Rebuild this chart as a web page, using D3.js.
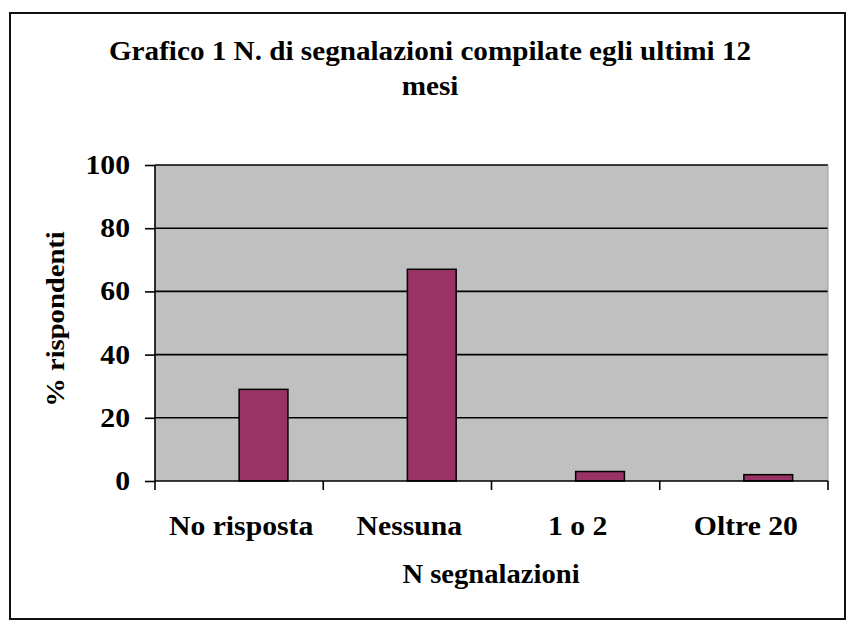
<!DOCTYPE html>
<html>
<head>
<meta charset="utf-8">
<script src="https://cdn.jsdelivr.net/npm/d3@7"></script>
<style>
    body { margin: 0; background: #fff; }
    text { font-family: 'Liberation Serif', 'Times New Roman', serif; font-weight: bold; fill: #000; }
</style>
</head>
<body>
<svg id="chart" width="863" height="634"></svg>
<script>
'use strict';

var categories = ['No risposta', 'Nessuna', '1 o 2', 'Oltre 20'];
var values = [29, 67, 3, 2];
var yTicks = [0, 20, 40, 60, 80, 100];
var titleLines = ['Grafico 1 N. di segnalazioni compilate egli ultimi 12', 'mesi'];
var yTitle = '% rispondenti';
var xTitle = 'N segnalazioni';

var svg = d3.select('#chart');
var plot = { left: 155, right: 828, top: 165, bottom: 481 };
var stretch = 1.1; // the original text is a bit wider than Liberation Serif

function place(x, y) {
    return 'translate(' + x + ',' + y + ') scale(' + stretch + ',1)';
}

// outer frame
svg.append('rect')
    .attr('x', 10).attr('y', 13)
    .attr('width', 835).attr('height', 606)
    .attr('fill', '#fff')
    .attr('stroke', '#111')
    .attr('stroke-width', 2);

var x = d3.scaleBand()
    .domain(categories)
    .range([plot.left, plot.right]);

var y = d3.scaleLinear()
    .domain([0, 100])
    .range([plot.bottom, plot.top]);

var barWidth = x.bandwidth() * 0.29;

// plot background
svg.append('rect')
    .attr('x', plot.left).attr('y', plot.top)
    .attr('width', plot.right - plot.left)
    .attr('height', plot.bottom - plot.top)
    .attr('fill', '#c0c0c0');

// gridlines
svg.selectAll('.grid')
    .data(yTicks.filter(function(d) { return d > 0; }))
    .enter().append('line')
    .attr('class', 'grid')
    .attr('x1', plot.left).attr('x2', plot.right)
    .attr('y1', function(d) { return y(d); })
    .attr('y2', function(d) { return y(d); })
    .attr('stroke', '#000')
    .attr('stroke-width', 1.6);

svg.append('line')
    .attr('x1', plot.right).attr('x2', plot.right)
    .attr('y1', plot.top).attr('y2', plot.bottom)
    .attr('stroke', '#9a9a9a')
    .attr('stroke-width', 1);

// bars (they start at the middle of each category, as in the original)
svg.selectAll('.bar')
    .data(values)
    .enter().append('rect')
    .attr('class', 'bar')
    .attr('x', function(d, i) { return x(categories[i]) + x.bandwidth() / 2; })
    .attr('y', function(d) { return y(d); })
    .attr('width', barWidth)
    .attr('height', function(d) { return y(0) - y(d); })
    .attr('fill', '#993366')
    .attr('stroke', '#000')
    .attr('stroke-width', 1.5);

// y axis
var yAxis = svg.append('g')
    .attr('transform', 'translate(' + plot.left + ',0)')
    .call(d3.axisLeft(y).tickValues(yTicks).tickSize(10).tickFormat(''));
yAxis.select('.domain').attr('stroke', '#000').attr('stroke-width', 1.6).attr('d', 'M0,' + plot.top + 'V' + plot.bottom);
yAxis.selectAll('.tick line').attr('stroke', '#000').attr('stroke-width', 1.6);

svg.selectAll('.ylabel')
    .data(yTicks)
    .enter().append('text')
    .attr('class', 'ylabel')
    .attr('transform', function(d) { return place(130, y(d) + 9); })
    .attr('text-anchor', 'end')
    .style('font-size', '27px')
    .text(function(d) { return d; });

// x axis, ticks at band edges
var xAxis = svg.append('g')
    .attr('transform', 'translate(0,' + plot.bottom + ')');
xAxis.append('line')
    .attr('x1', plot.left).attr('x2', plot.right)
    .attr('stroke', '#000').attr('stroke-width', 1.6);
var edges = categories.map(function(c) { return x(c); });
edges.push(plot.right);
xAxis.selectAll('.xtick')
    .data(edges)
    .enter().append('line')
    .attr('class', 'xtick')
    .attr('x1', function(d) { return d; })
    .attr('x2', function(d) { return d; })
    .attr('y1', 0).attr('y2', 9)
    .attr('stroke', '#000').attr('stroke-width', 1.6);
xAxis.selectAll('.xlabel')
    .data(categories)
    .enter().append('text')
    .attr('class', 'xlabel')
    .attr('transform', function(d) { return place(x(d) + x.bandwidth() / 2 + 2, 54); })
    .attr('text-anchor', 'middle')
    .style('font-size', '27px')
    .text(function(d) { return d; });

// titles
svg.selectAll('.title')
    .data(titleLines)
    .enter().append('text')
    .attr('class', 'title')
    .attr('transform', function(d, i) {
        return 'translate(430,' + (60 + i * 35) + ') scale(1.08,1)';
    })
    .attr('text-anchor', 'middle')
    .style('font-size', '27px')
    .text(function(d) { return d; });

svg.append('text')
    .attr('transform', 'translate(64,319) rotate(-90) scale(' + stretch + ',1)')
    .attr('text-anchor', 'middle')
    .style('font-size', '26px')
    .text(yTitle);

svg.append('text')
    .attr('transform', 'translate(491,583) scale(1.06,1)')
    .attr('text-anchor', 'middle')
    .style('font-size', '27px')
    .text(xTitle);
</script>
</body>
</html>
